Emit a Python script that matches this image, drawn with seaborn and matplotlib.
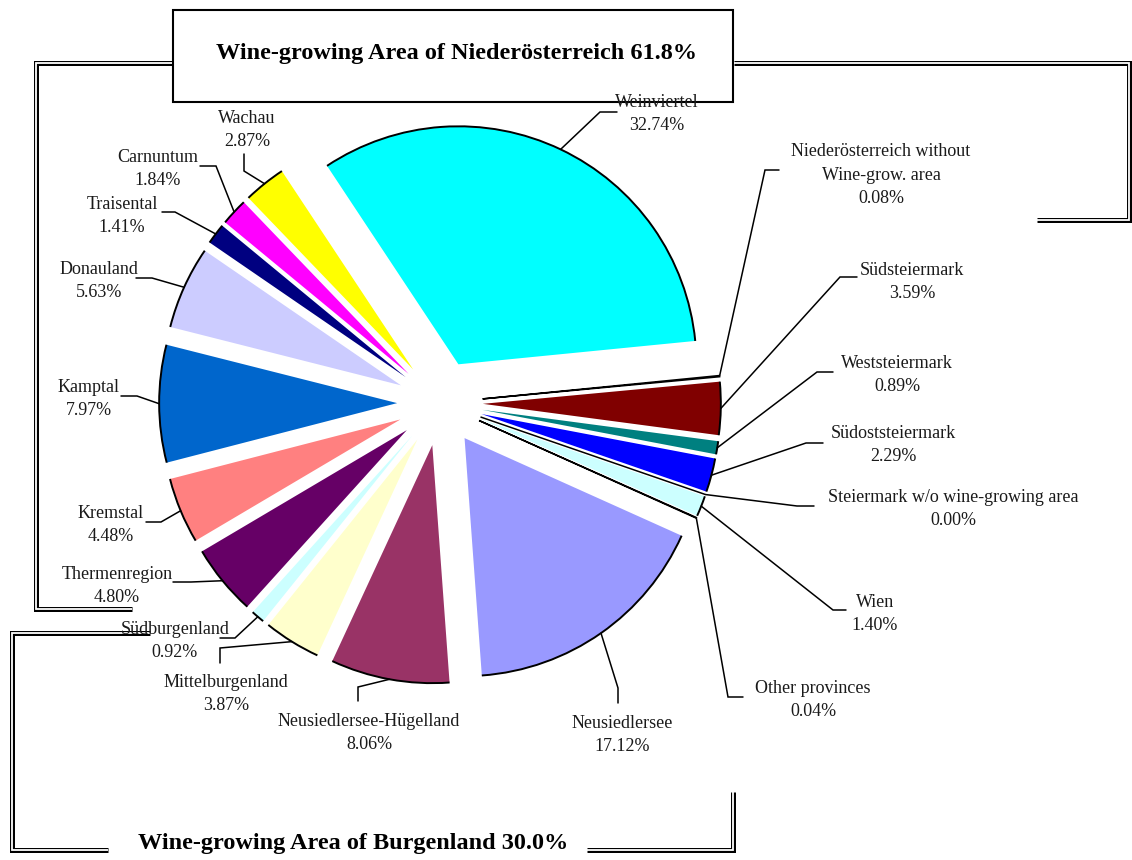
import matplotlib
matplotlib.use("Agg")
import numpy as np
import matplotlib.pyplot as plt
import matplotlib.patheffects as pe
from matplotlib.patches import Arc, Rectangle
import seaborn as sns

# ---- data -------------------------------------------------------------
regions = [
    "Weinviertel", "Niederösterreich without\nWine-grow. area", "Südsteiermark",
    "Weststeiermark", "Südoststeiermark", "Steiermark w/o wine-growing area",
    "Wien", "Other provinces", "Neusiedlersee", "Neusiedlersee-Hügelland",
    "Mittelburgenland", "Südburgenland", "Thermenregion", "Kremstal", "Kamptal",
    "Donauland", "Traisental", "Carnuntum", "Wachau",
]
shares = [32.74, 0.08, 3.59, 0.89, 2.29, 0.00, 1.40, 0.04, 17.12, 8.06,
          3.87, 0.92, 4.80, 4.48, 7.97, 5.63, 1.41, 1.84, 2.87]
colors = ["#00FFFF", "#C0C0C0", "#800000", "#008080", "#0000FF", "#C0C0C0",
          "#CCFFFF", "#C0C0C0", "#9999FF", "#993366", "#FFFFCC", "#CCFFFF",
          "#660066", "#FF8080", "#0066CC", "#CCCCFF", "#000080", "#FF00FF",
          "#FFFF00"]
noe_regions = ["Weinviertel", "Niederösterreich without\nWine-grow. area",
               "Thermenregion", "Kremstal", "Kamptal", "Donauland",
               "Traisental", "Carnuntum", "Wachau"]
bgld_regions = ["Neusiedlersee", "Neusiedlersee-Hügelland",
                "Mittelburgenland", "Südburgenland"]

# ---- label layout (pixel coordinates, y downwards) ---------------------
# text centre, then leader-line points after the rim anchor
label_layout = [
    ((657, 114), [(600, 112), (617, 112)]),
    ((881, 175), [(765, 170), (779, 170)]),
    ((912, 282), [(840, 277), (857, 277)]),
    ((897, 375), [(817, 372), (833, 372)]),
    ((893, 445), [(806, 443), (823, 443)]),
    ((953, 509), [(797, 506), (814, 506)]),
    ((875, 614), [(833, 610), (846, 610)]),
    ((813, 700), [(728, 697), (743, 697)]),
    ((622, 735), [(618, 688), (618, 703)]),
    ((369, 733), [(358, 687), (358, 701)]),
    ((226, 694), [(220, 648), (220, 663)]),
    ((175, 641), [(235, 638), (220, 638)]),
    ((117, 586), [(191, 582), (173, 582)]),
    ((111, 525), [(161, 522), (146, 522)]),
    ((89, 399), [(137, 396), (121, 396)]),
    ((99, 281), [(152, 278), (136, 278)]),
    ((122, 216), [(175, 212), (162, 212)]),
    ((158, 169), [(216, 166), (200, 166)]),
    ((247, 130), [(244, 171), (244, 154)]),
]

W, H = 1132, 860
R_PX = 238          # pie radius in pixels
CX, CY = 440, 403   # pie centre in pixels (from top-left)
HALF = 1.5          # pie axes half-extent in radius units

sns.set_theme(style="white")
plt.rcParams["font.family"] = ["Liberation Serif", "DejaVu Serif"]

fig = plt.figure(figsize=(W / 100, H / 100), dpi=100)
fig.patch.set_facecolor("white")

# ---- pie ----------------------------------------------------------------
ax_pie = fig.add_axes([(CX - HALF * R_PX) / W, (H - CY - HALF * R_PX) / H,
                       2 * HALF * R_PX / W, 2 * HALF * R_PX / H])
wedges, _ = ax_pie.pie(shares, colors=colors, startangle=123.5,
                       counterclock=False, explode=[0.18] * len(shares),
                       radius=1.0, wedgeprops=dict(linewidth=0))
ax_pie.set_xlim(-HALF, HALF)
ax_pie.set_ylim(-HALF, HALF)
ax_pie.set_aspect("equal")
ax_pie.axis("off")

for w, v in zip(wedges, shares):
    if v < 0.1:
        w.set_edgecolor("black")
        w.set_linewidth(1.1)
        w.set_zorder(3)
    if w.theta2 - w.theta1 > 0.5:
        ax_pie.add_patch(Arc(w.center, 2 * w.r, 2 * w.r, theta1=w.theta1,
                             theta2=w.theta2, color="black", lw=1.4, zorder=4))

# ---- overlay in pixel coordinates -------------------------------------------
ax = fig.add_axes([0, 0, 1, 1], zorder=3)
ax.set_xlim(0, W)
ax.set_ylim(H, 0)
ax.axis("off")
ax.patch.set_alpha(0)

to_px = ax.transData.inverted()

for w, name, v, ((tx, ty), pts) in zip(wedges, regions, shares, label_layout):
    th = np.deg2rad(0.5 * (w.theta1 + w.theta2))
    rim = (w.center[0] + w.r * np.cos(th), w.center[1] + w.r * np.sin(th))
    rx, ry = to_px.transform(ax_pie.transData.transform(rim))
    xs = [rx] + [p[0] for p in pts]
    ys = [ry] + [p[1] for p in pts]
    ax.plot(xs, ys, color="black", lw=1.1, solid_joinstyle="miter")
    ax.text(tx, ty, f"{name}\n{v:.2f}%", ha="center", va="center",
            multialignment="center", fontsize=13, color="#1a1a1a",
            linespacing=1.5)


def double_line(points):
    xs = [p[0] for p in points]
    ys = [p[1] for p in points]
    ln, = ax.plot(xs, ys, color="black", lw=3.6, solid_joinstyle="miter",
                  solid_capstyle="butt")
    ln.set_path_effects([pe.Stroke(linewidth=3.6, foreground="black"),
                         pe.Stroke(linewidth=1.3, foreground="white")])


double_line([(172, 63), (36, 63), (36, 609), (132, 609)])
double_line([(734, 63), (1129, 63), (1129, 220), (1037, 220)])
double_line([(150, 633), (12, 633), (12, 850), (108, 850)])
double_line([(587, 850), (733, 850), (733, 792)])

noe_total = sum(v for r, v in zip(regions, shares) if r in noe_regions)
bgld_total = sum(v for r, v in zip(regions, shares) if r in bgld_regions)

ax.add_patch(Rectangle((173, 10), 560, 92, facecolor="white",
                       edgecolor="black", lw=1.5, zorder=1))
ax.text(456, 53, f"Wine-growing Area of Niederösterreich {noe_total:.1f}%",
        ha="center", va="center", fontsize=17.5, fontweight="bold",
        color="black", zorder=2)
ax.text(353, 843, f"Wine-growing Area of Burgenland {bgld_total:.1f}%",
        ha="center", va="center", fontsize=17.5, fontweight="bold",
        color="black", zorder=2)

fig.savefig("out.png", dpi=100)
